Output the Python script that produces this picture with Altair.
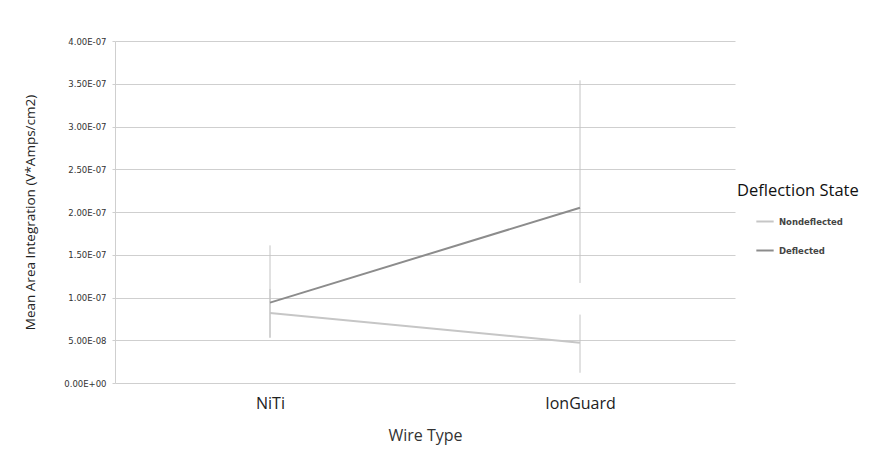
import altair as alt
import pandas as pd

wire = ["NiTi", "IonGuard"]
states = ["Nondeflected", "Deflected"]
nondeflected = [8.2e-8, 4.7e-8]
nondeflected_lo = [5.3e-8, 1.2e-8]
nondeflected_hi = [1.1e-7, 8.0e-8]
deflected = [9.4e-8, 2.05e-7]
deflected_lo = [5.3e-8, 1.17e-7]
deflected_hi = [1.61e-7, 3.54e-7]
y_ticks = [0, 5e-8, 1e-7, 1.5e-7, 2e-7, 2.5e-7, 3e-7, 3.5e-7, 4e-7]

rows = []
for i, w in enumerate(wire):
    rows.append({"Wire": w, "State": "Nondeflected", "v": nondeflected[i],
                 "lo": nondeflected_lo[i], "hi": nondeflected_hi[i]})
    rows.append({"Wire": w, "State": "Deflected", "v": deflected[i],
                 "lo": deflected_lo[i], "hi": deflected_hi[i]})
df = pd.DataFrame(rows)

FONT = "Open Sans"
label_expr = "replace(replace(format(datum.value, '.2e'), 'e-', 'E-0'), 'e+', 'E+0')"

x = alt.X("Wire:N", sort=wire, scale=alt.Scale(type="point", padding=0.5),
          axis=alt.Axis(title="Wire Type", labelAngle=0, labelFontSize=16, labelFont=FONT,
                        labelColor="#222", titleFontSize=16, titleFont=FONT, titleFontWeight="normal",
                        titleColor="#333", labelPadding=12, titlePadding=16, ticks=False,
                        domain=False, grid=False))
y = alt.Y("v:Q", scale=alt.Scale(domain=[0, 4e-7], nice=False),
          axis=alt.Axis(title="Mean Area Integration (V*Amps/cm2)", values=y_ticks,
                        labelExpr=label_expr, labelFontSize=8.5, labelFont="DejaVu Sans",
                        labelColor="#333", titleFontSize=13.5, titleFont=FONT,
                        titleFontWeight="normal", titleColor="#222", titleX=-85, titleY=171,
                        titleAngle=-90, titleAlign="center", titleBaseline="middle",
                        gridColor="#cfcfcf", gridWidth=1, domainColor="#cfcfcf",
                        tickColor="#cfcfcf", tickSize=3, labelPadding=6))

color = alt.Color("State:N", sort=states,
                  scale=alt.Scale(domain=states, range=["#c6c6c6", "#8c8c8c"]),
                  legend=alt.Legend(title="Deflection State", orient="none", legendX=622,
                                    legendY=142, titleFontSize=16.5, titleFont=FONT,
                                    titleFontWeight="normal", titleColor="#111",
                                    labelFontSize=8.5, labelFont="DejaVu Sans",
                                    labelFontWeight="bold",
                                    labelColor="#444", symbolType="stroke",
                                    symbolStrokeWidth=2, symbolSize=300, symbolOffset=18,
                                    rowPadding=14, titlePadding=12))

err = alt.Chart(df).mark_rule(color="#c4c4c4", strokeWidth=1).encode(
    x=x, y=alt.Y("lo:Q"), y2="hi:Q")

lines = alt.Chart(df).mark_line(strokeWidth=2).encode(x=x, y=y, color=color)

chart = alt.layer(err, lines).properties(
    width=620, height=342,
    background="white",
    autosize=alt.AutoSizeParams(type="none"),
    padding={"left": 115, "top": 41, "right": 144, "bottom": 79},
).configure_view(stroke="transparent", strokeWidth=0)

chart.save("out.html", embed_options={"renderer": "svg", "actions": False})
